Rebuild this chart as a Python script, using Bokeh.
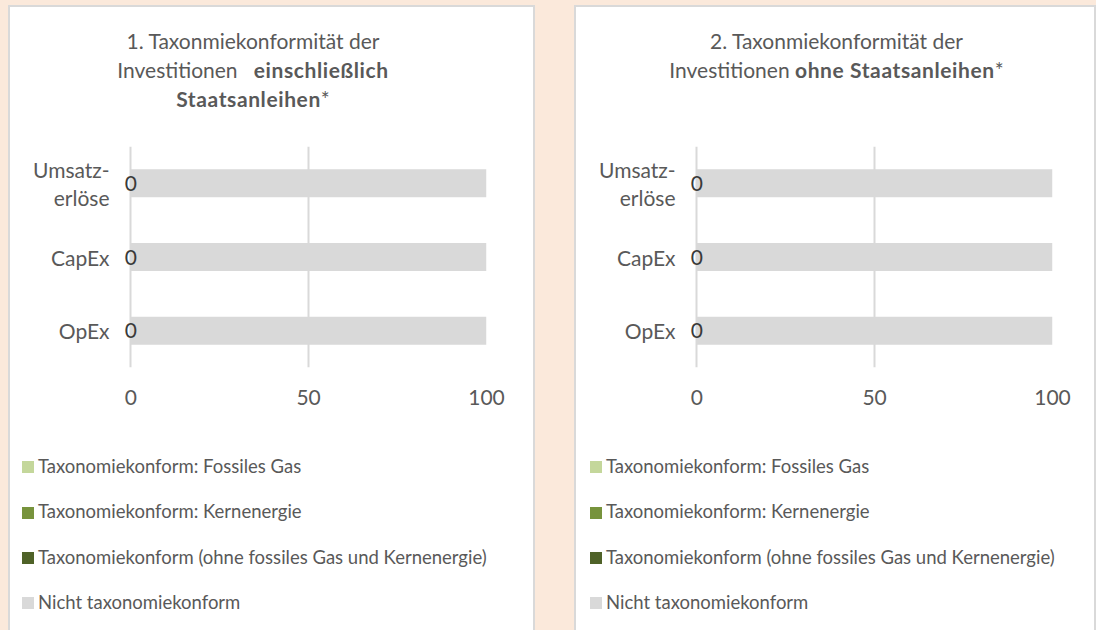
from bokeh.plotting import figure
from bokeh.models import (ColumnDataSource, FactorRange, Range1d, FixedTicker,
                          LabelSet, Div, Spacer)
from bokeh.layouts import row, column
from bokeh.core.properties import value
from bokeh.embed import file_html
from bokeh.resources import INLINE

# ---------------- data ----------------
categories = ["Umsatz-\nerlöse", "CapEx", "OpEx"]          # top to bottom
x_ticks = [0, 50, 100]
legend_labels = [
    "Taxonomiekonform: Fossiles Gas",
    "Taxonomiekonform: Kernenergie",
    "Taxonomiekonform (ohne fossiles Gas und Kernenergie)",
    "Nicht taxonomiekonform",
]
series_keys = ["fossil_gas", "nuclear", "aligned_other", "not_aligned"]
series_colors = ["#c4d79b", "#77933c", "#4f6228", "#d9d9d9"]

# chart 1: including sovereign bonds
incl_fossil_gas = [0, 0, 0]
incl_nuclear = [0, 0, 0]
incl_aligned_other = [0, 0, 0]
incl_not_aligned = [100, 100, 100]

# chart 2: excluding sovereign bonds
excl_fossil_gas = [0, 0, 0]
excl_nuclear = [0, 0, 0]
excl_aligned_other = [0, 0, 0]
excl_not_aligned = [100, 100, 100]

B = '<b style="letter-spacing:0.6px">%s</b>'
title1_html = ("1. Taxonmiekonformität der<br>"
               "Investitionen&nbsp;&nbsp; " + B % "einschließlich" + "<br>"
               + B % "Staatsanleihen" + "*")
title2_html = ("2. Taxonmiekonformität der<br>"
               "Investitionen " + B % "ohne Staatsanleihen" + "*")

FONT = "Lato"
GREY = "#595959"
PEACH = "#fbe9db"
BORDER = "#d9d9d9"


def legend_html(inner_w, left):
    items = "".join(
        '<div style="height:45.33px;line-height:45.33px;white-space:nowrap;">'
        '<span style="display:inline-block;width:12px;height:12px;background:%s;'
        'vertical-align:middle;margin-right:4px;position:relative;top:-1px;"></span>%s</div>'
        % (c, l) for c, l in zip(series_colors, legend_labels))
    return ('<div style="box-sizing:border-box;width:%dpx;padding:24px 0 0 %dpx;'
            'font-family:Lato,sans-serif;font-size:18.5px;color:%s;">%s</div>'
            % (inner_w, left, GREY, items))


def make_panel(series, title_html, panel_w, pad, legend_left):
    inner_w = panel_w - 4            # 2px border on each side
    data = dict(cat=categories)
    for k, v in zip(series_keys, series):
        data[k] = v
    data["lbl_x"] = [a + b + c for a, b, c in zip(series[0], series[1], series[2])]
    data["lbl"] = [str(int(v)) for v in series[2]]
    src = ColumnDataSource(data)

    # ---- title (mixed weights) ----
    title = Div(text=('<div style="box-sizing:border-box;width:%dpx;'
                      'font-family:Lato,sans-serif;font-size:21px;'
                      'line-height:29px;color:%s;text-align:center;white-space:nowrap;'
                      'padding:%s;">%s</div>') % (inner_w, GREY, pad, title_html),
                width=inner_w, height=108, margin=(2, 2, 0, 2),
                styles={"background-color": "white", "overflow": "hidden"})

    # ---- bar chart ----
    p = figure(width=inner_w, height=305, margin=(0, 2, 0, 2),
               y_range=FactorRange(factors=categories[::-1]),
               x_range=Range1d(-4, 100),
               output_backend="svg", toolbar_location=None,
               min_border_left=106, min_border_right=inner_w - 106 - 370,
               min_border_top=31, min_border_bottom=53,
               outline_line_color=None,
               border_fill_color="white", background_fill_color="white",
               styles={"background-color": "white"})

    p.hbar_stack(series_keys, y="cat", height=0.38, color=series_colors,
                 line_color=None, source=src)

    tick = FixedTicker(ticks=x_ticks)
    p.xaxis.ticker = tick
    p.xgrid.ticker = tick
    p.xgrid.grid_line_color = BORDER
    p.xgrid.grid_line_width = 2
    p.ygrid.grid_line_color = None
    for ax in (p.xaxis, p.yaxis):
        ax.axis_line_color = None
        ax.major_tick_line_color = None
        ax.minor_tick_line_color = None
        ax.major_tick_in = 0
        ax.major_tick_out = 0
        ax.major_label_text_font = FONT
        ax.major_label_text_font_size = "21px"
        ax.major_label_text_color = GREY
    p.xaxis.major_label_standoff = 22
    p.yaxis.major_label_standoff = 7
    p.yaxis.major_label_text_line_height = 1.11

    p.add_layout(LabelSet(x="lbl_x", y="cat", text="lbl", source=src,
                          text_align="center", text_baseline="middle",
                          text_font=value(FONT), text_font_size="21px",
                          text_color="#3a3a3a"))

    # ---- legend ----
    legend = Div(text=legend_html(inner_w, legend_left),
                 width=inner_w, height=210, margin=(0, 2, 0, 2),
                 styles={"background-color": "white", "overflow": "hidden"})

    # grey panel background shows through the 2px margins as a border
    return column(title, p, legend, spacing=0,
                  styles={"background-color": BORDER})


panel1 = make_panel([incl_fossil_gas, incl_nuclear, incl_aligned_other, incl_not_aligned],
                    title1_html, 527, "19px 37px 0 0", 12)
panel2 = make_panel([excl_fossil_gas, excl_nuclear, excl_aligned_other, excl_not_aligned],
                    title2_html, 522, "19px 0 0 3px", 14)

layout = column(
    Spacer(width=1096, height=5, margin=0),
    row(Spacer(width=8, height=625, margin=0), panel1,
        Spacer(width=39, height=625, margin=0), panel2, spacing=0),
    spacing=0,
    styles={"background-color": PEACH},
)

open("out.html", "w").write(file_html(layout, INLINE, title="Taxonomiekonformität"))
